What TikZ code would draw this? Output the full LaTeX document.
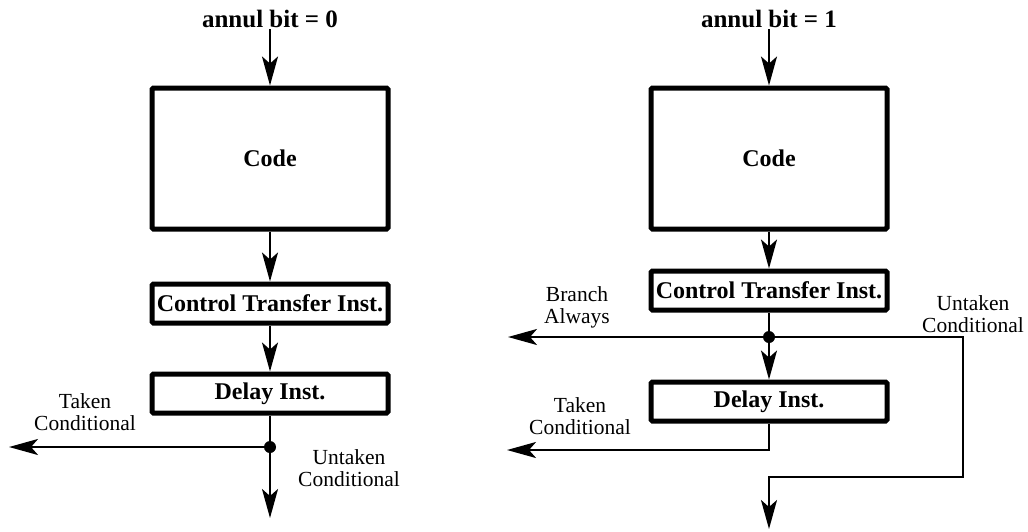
\documentclass[tikz,border=0pt]{standalone}
\usepackage{fontspec}
\setmainfont{Liberation Serif}
\usetikzlibrary{arrows.meta}
\begin{document}
\begin{tikzpicture}[x=1pt,y=-1pt,
  box/.style={draw, line width=5pt, rounded corners=1.5pt, inner sep=0pt,
    font=\bfseries\fontsize{24}{26}\selectfont, minimum width=236pt},
  conn/.style={line width=2.2pt, line join=miter, -{Stealth[length=29pt,width=16pt,inset=7pt]}},
  plain/.style={line width=2.2pt, line join=miter},
  lbl/.style={font=\fontsize{21.5}{22}\selectfont, align=center, inner sep=0pt},
  ttl/.style={font=\bfseries\fontsize{25}{27}\selectfont, inner sep=1pt},
  jdot/.style={circle, fill, inner sep=0pt, minimum size=12pt}]
\useasboundingbox (0,0) rectangle (1028,531);

% ---------------- left: annul bit = 0
\node[ttl] (t0) at (270,19) {annul bit = 0};
\node[box, minimum height=141pt] (code0) at (270,158.5) {Code};
\node[box, minimum height=39pt] (cti0) at (270,303.5) {Control Transfer Inst.};
\node[box, minimum height=39pt] (del0) at (270,393.5) {Delay Inst.};
\node[jdot] (j0) at (270,447) {};
\coordinate (tc0) at (9,447);
\coordinate (uc0) at (270,518);

\draw[conn] (t0.south) -- (code0.north);
\draw[conn] (code0.south) -- (cti0.north);
\draw[conn] (cti0.south) -- (del0.north);
\draw[plain] (del0.south) -- (j0.center);
\draw[conn] (j0.center) -- (tc0);
\draw[conn] (j0.center) -- (uc0);

\node[lbl] (ltc0) at (85,412) {Taken\\Conditional};
\node[lbl] (luc0) at (349,468) {Untaken\\Conditional};

% ---------------- right: annul bit = 1
\node[ttl] (t1) at (769,19) {annul bit = 1};
\node[box, minimum height=141pt] (code1) at (769,158.5) {Code};
\node[box, minimum height=39pt] (cti1) at (769,290.5) {Control Transfer Inst.};
\node[box, minimum height=39pt] (del1) at (769,401.5) {Delay Inst.};
\node[jdot] (j1) at (769,337) {};
\coordinate (ba1) at (508,337);
\coordinate (ur1) at (963,337);
\coordinate (ud1) at (963,477);
\coordinate (ul1) at (769,477);
\coordinate (ue1) at (769,529);
\coordinate (tk1) at (769,450);
\coordinate (te1) at (507,450);

\draw[conn] (t1.south) -- (code1.north);
\draw[conn] (code1.south) -- (cti1.north);
\draw[plain] (cti1.south) -- (j1.center);
\draw[conn] (j1.center) -- (ba1);
\draw[conn] (j1.center) -- (del1.north);
\draw[conn] (j1.center) -- (ur1) -- (ud1) -- (ul1) -- (ue1);
\draw[conn] (del1.south) -- (tk1) -- (te1);

\node[lbl] (lba1) at (577,307.5) {Branch\\Always};
\node[lbl] (luc1) at (973,314.5) {Untaken\\Conditional};
\node[lbl] (ltc1) at (580,416) {Taken\\Conditional};
\end{tikzpicture}
\end{document}
